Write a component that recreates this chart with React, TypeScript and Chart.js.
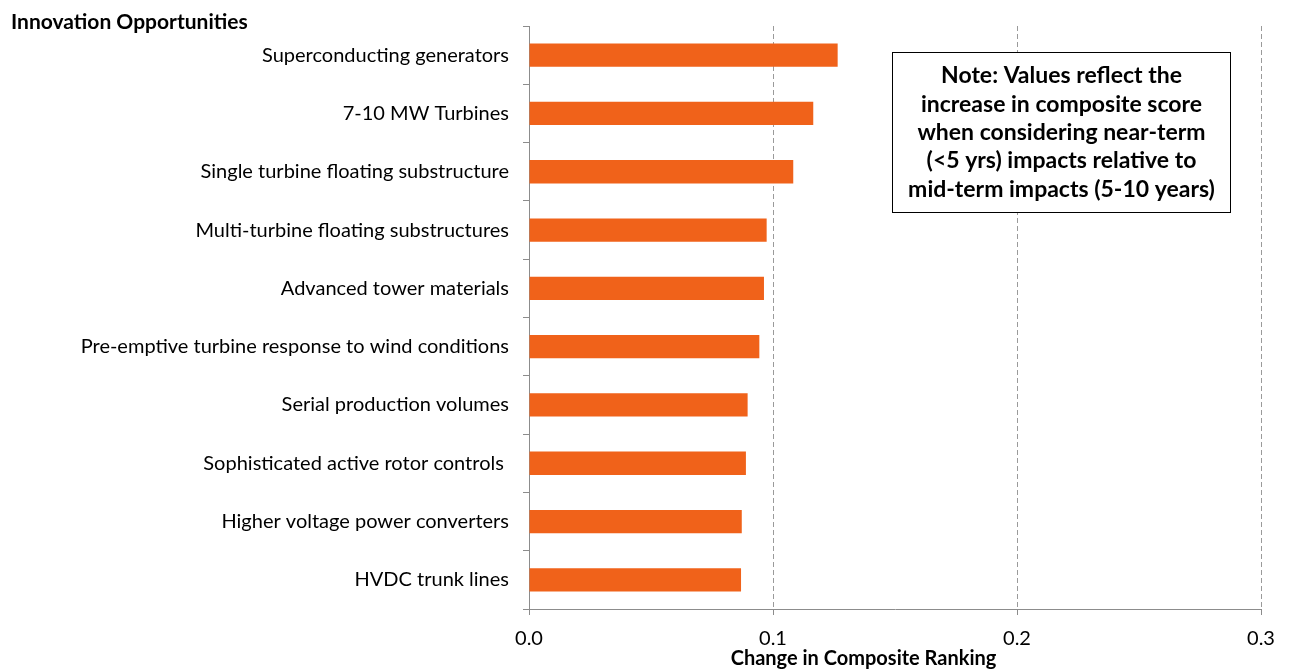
import React, { useEffect, useRef } from "react";
import { Chart, registerables } from "chart.js";

Chart.register(...registerables);

const categories = [
  "Superconducting generators",
  "7-10 MW Turbines",
  "Single turbine floating substructure",
  "Multi-turbine floating substructures",
  "Advanced tower materials",
  "Pre-emptive turbine response to wind conditions",
  "Serial production volumes",
  "Sophisticated active rotor controls ",
  "Higher voltage power converters",
  "HVDC trunk lines",
];

const values = [0.1265, 0.1165, 0.1083, 0.0974, 0.0963, 0.0944, 0.0896, 0.0889, 0.0872, 0.0869];

const xTicks = [0, 0.1, 0.2, 0.3];

const yAxisTitle = "Innovation Opportunities";
const xAxisTitle = "Change in Composite Ranking";

const noteLines = [
  "Note: Values reflect the",
  "increase in composite score",
  "when considering near-term",
  "(<5 yrs) impacts relative to",
  "mid-term impacts (5-10 years)",
];

const FONT = "Lato, 'Open Sans', sans-serif";
const BAR_COLOR = "#F0621A";
const AXIS_COLOR = "#8c8c8c";

const overlayPlugin = {
  id: "overlay",
  afterDraw(chart: any) {
    const ctx = chart.ctx;
    ctx.save();
    ctx.fillStyle = "#000";
    // y axis title (top-left)
    ctx.font = `bold 21px ${FONT}`;
    ctx.textAlign = "left";
    ctx.textBaseline = "alphabetic";
    ctx.fillText(yAxisTitle, 11, 29);

    // x axis title
    ctx.font = `bold 20px ${FONT}`;
    ctx.textAlign = "center";
    ctx.fillText(xAxisTitle, 863.5, 665);

    // note box
    const bx = 892.5, by = 52.5, bw = 338, bh = 160;
    ctx.fillStyle = "#fff";
    ctx.fillRect(bx, by, bw, bh);
    ctx.strokeStyle = "#000";
    ctx.lineWidth = 1;
    ctx.strokeRect(bx, by, bw, bh);
    ctx.fillStyle = "#000";
    ctx.font = `bold 23px ${FONT}`;
    ctx.textAlign = "center";
    ctx.textBaseline = "middle";
    noteLines.forEach((line, i) => {
      ctx.fillText(line, bx + bw / 2, 76 + i * 28.3);
    });
    ctx.restore();
  },
};

export default function App() {
  const ref = useRef<HTMLCanvasElement>(null);

  useEffect(() => {
    if (!ref.current) return;
    const chart = new Chart(ref.current, {
      type: "bar",
      data: {
        labels: categories,
        datasets: [
          {
            data: values,
            backgroundColor: BAR_COLOR,
            borderWidth: 0,
            barPercentage: 0.4,
            categoryPercentage: 1,
          },
        ],
      },
      options: {
        indexAxis: "y",
        animation: false,
        responsive: false,
        maintainAspectRatio: false,
        layout: { padding: { left: 0, right: 29, top: 24, bottom: 0 } },
        plugins: {
          legend: { display: false },
          tooltip: { enabled: false },
          title: { display: false },
        },
        scales: {
          x: {
            type: "linear",
            min: 0,
            max: 0.3,
            afterBuildTicks: (scale: any) => {
              scale.ticks = xTicks.map((v) => ({ value: v }));
            },
            afterFit: (scale: any) => {
              scale.height = 61;
            },
            ticks: {
              callback: (v: any) => Number(v).toFixed(1),
              font: { family: FONT, size: 20 },
              color: "#000",
              padding: 12,
            },
            grid: {
              color: (c: any) => (c.index === 0 ? "rgba(0,0,0,0)" : "#9a9a9a"),
              tickBorderDash: [],
              tickColor: AXIS_COLOR,
              tickLength: 6,
              lineWidth: 1,
            },
            border: { display: true, color: AXIS_COLOR, width: 1, dash: [5, 3] },
          },
          y: {
            type: "category",
            afterFit: (scale: any) => {
              scale.width = 529;
            },
            ticks: {
              font: { family: FONT, size: 20 },
              color: "#000",
              padding: 14,
            },
            grid: {
              drawOnChartArea: false,
              drawTicks: true,
              offset: true,
              tickLength: 6,
              tickColor: AXIS_COLOR,
              color: AXIS_COLOR,
            },
            border: { display: true, color: AXIS_COLOR, width: 1 },
          },
        },
      },
      plugins: [overlayPlugin],
    });
    return () => chart.destroy();
  }, []);

  return (
    <div style={{ position: "fixed", left: 0, top: 0, width: 1290, height: 670, background: "#fff" }}>
      <canvas ref={ref} width={1290} height={670} style={{ width: 1290, height: 670 }} />
    </div>
  );
}
